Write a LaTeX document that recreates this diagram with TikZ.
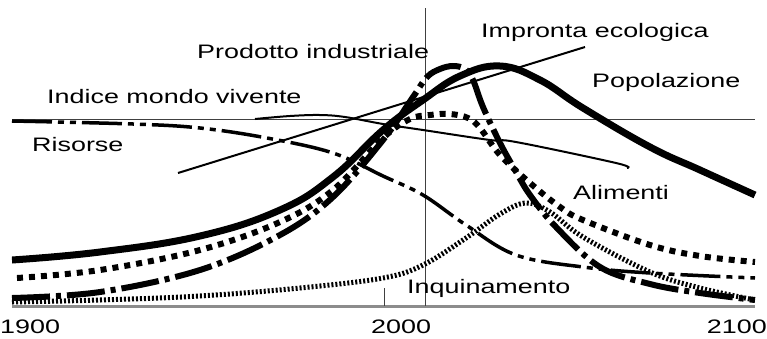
\documentclass[tikz,border=0pt]{standalone}
\usepackage{fontspec}
\setmainfont{Liberation Sans}
\newcommand\widetxt[1]{\scalebox{1.38}[1]{#1}}
\begin{document}
\begin{tikzpicture}[x=1pt,y=-1pt,
  lbl/.style={inner sep=0pt, anchor=base west, font=\fontsize{19.5}{22}\selectfont},
  axisln/.style={line width=0.9pt, black!75},
  basel/.style={line width=3pt, black!45},
  popc/.style={line width=7pt},
  prodc/.style={line width=6pt, dash pattern=on 38pt off 6pt on 5pt off 6pt},
  alimc/.style={line width=6pt, dash pattern=on 6pt off 6pt},
  inqc/.style={line width=5pt, dash pattern=on 2pt off 2pt},
  risc/.style={line width=3.5pt, dash pattern=on 40pt off 6pt on 6pt off 6pt on 6pt off 6pt},
  thinc/.style={line width=2pt},
  smoothc/.style={smooth, tension=0.6}]
\useasboundingbox (0,0) rectangle (767,338);
% axes
\coordinate (b0) at (12,306); \coordinate (b1) at (755,306);
\draw[basel] (b0) -- (b1);
\coordinate (h0) at (12,119); \coordinate (h1) at (755,119);
\draw[axisln] (h0) -- (h1);
\coordinate (v0) at (425,8); \coordinate (v1) at (425,306);
\draw[axisln] (v0) -- (v1);
\coordinate (t0) at (384,288); \coordinate (t1) at (384,306);
\draw[axisln] (t0) -- (t1);
% Impronta ecologica
\coordinate (ie0) at (178,173); \coordinate (ie1) at (585,47);
\draw[thinc] (ie0) -- (ie1);
% Indice mondo vivente
\draw[thinc] plot[smoothc] coordinates {(255,119) (290,116) (320,115) (345,117) (383,124) (423,130) (490,140) (516,142) (616,163) (627,168)};
% Risorse
\draw[risc] plot[smoothc] coordinates {(12,121) (133,124) (200,128) (267,138) (333,153) (383,176) (423,195) (466,225) (516,255) (583,267) (650,273) (755,278)};
% Inquinamento
\draw[inqc] plot[smoothc] coordinates {(12,302) (100,300) (200,296) (300,288) (383,278) (423,265) (466,238) (500,214) (526,203) (550,212) (583,237) (650,272) (700,288) (755,300)};
% Alimenti
\draw[alimc] plot[smoothc] coordinates {(17,278) (100,270) (200,250) (280,222) (333,190) (383,138) (410,119) (430,115) (450,114) (468,118) (480,128) (500,155) (530,183) (560,207) (583,220) (650,245) (700,256) (755,262)};
% Prodotto industriale
\draw[prodc] plot[smoothc] coordinates {(12,298) (100,292) (200,270) (280,235) (333,197) (383,140) (413,97) (427,77) (440,69) (453,66) (465,69) (473,80) (483,107) (500,143) (515,170) (530,195) (556,227) (600,267) (650,284) (700,293) (755,300)};
% Popolazione
\draw[popc] plot[smooth, tension=0.7] coordinates {(12,260) (100,252) (200,236) (280,210) (333,177) (383,130) (423,100) (460,76) (500,66) (540,80) (583,108) (650,147) (700,170) (755,195)};
% labels
\node[lbl] (lprod) at (197,58) {\widetxt{Prodotto industriale}};
\node[lbl] (limp) at (481,37) {\widetxt{Impronta ecologica}};
\node[lbl] (lind) at (47,103) {\widetxt{Indice mondo vivente}};
\node[lbl] (lris) at (32,151) {\widetxt{Risorse}};
\node[lbl] (lpop) at (592,87) {\widetxt{Popolazione}};
\node[lbl] (lali) at (573,199) {\widetxt{Alimenti}};
\node[lbl] (linq) at (407,293) {\widetxt{Inquinamento}};
\node[lbl] (y1900) at (0,333) {\widetxt{1900}};
\node[lbl] (y2000) at (371,333) {\widetxt{2000}};
\node[lbl, anchor=base east] (y2100) at (767,333) {\widetxt{2100}};
\end{tikzpicture}
\end{document}
